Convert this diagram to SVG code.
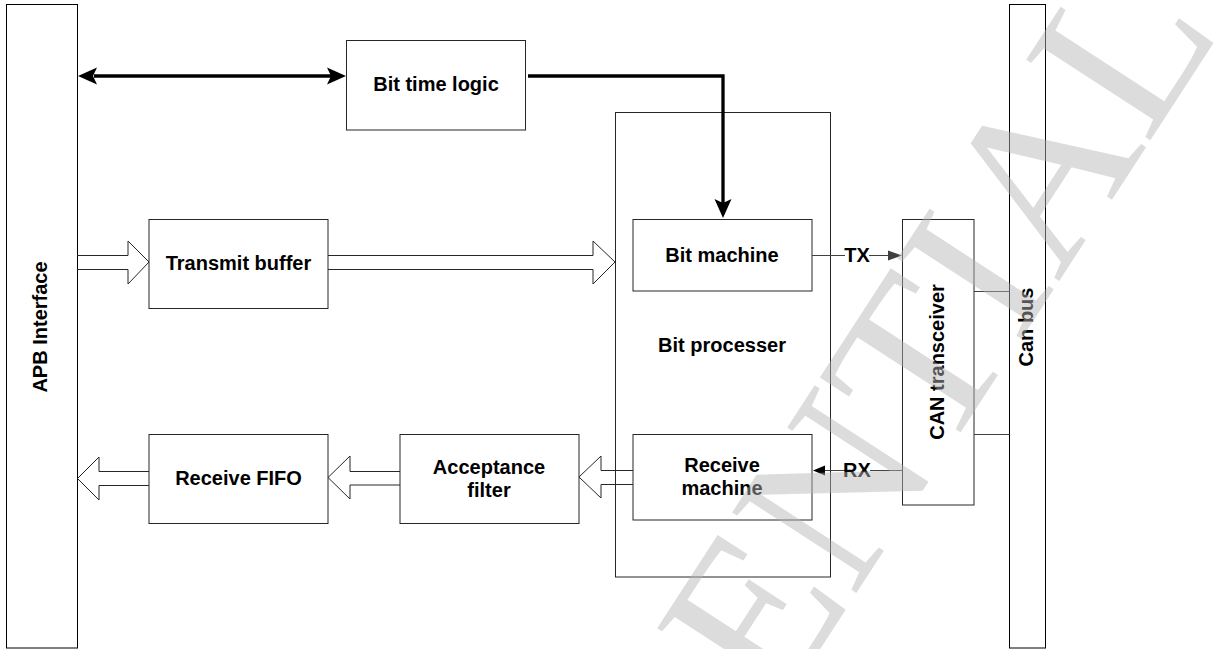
<svg xmlns="http://www.w3.org/2000/svg" width="1220" height="649" viewBox="0 0 1220 649">
<style>
.box{fill:#fff;stroke:#262626;stroke-width:1}
.bar{fill:#fff;stroke:#000;stroke-width:1}
.lbl{font-family:"Liberation Sans",Arial,sans-serif;font-weight:bold;font-size:20px;fill:#000;text-anchor:middle}
.thin{fill:none;stroke:#404040;stroke-width:1}
.thick{fill:none;stroke:#000;stroke-width:3.3}
.hollow{fill:none;stroke:#262626;stroke-width:1;stroke-linejoin:miter}
.wm{font-family:"Liberation Serif","Times New Roman",serif;font-size:226px;fill:#b5b5b5;fill-opacity:0.47;text-anchor:end}
</style>
<rect width="1220" height="649" fill="#fff"/>
<g id="apb">
<rect class="bar" x="6.5" y="4.5" width="71" height="643.5"/>
<text class="lbl" transform="translate(47,327) rotate(-90)">APB Interface</text>
</g>
<g id="canbus">
<rect class="bar" x="1009.5" y="4.5" width="36" height="643.5"/>
<text class="lbl" transform="translate(1033,327) rotate(-90)">Can bus</text>
</g>
<g id="bittime">
<rect class="box" x="346.5" y="40.5" width="179" height="89.5"/>
<text class="lbl" x="436" y="91">Bit time logic</text>
</g>
<g id="bitproc">
<rect class="box" x="615.5" y="112.5" width="215" height="464.5"/>
<text class="lbl" x="722" y="352">Bit processer</text>
</g>
<g id="bitmachine">
<rect class="box" x="633" y="219.5" width="179" height="71.5"/>
<text class="lbl" x="722" y="262">Bit machine</text>
</g>
<g id="recvmachine">
<rect class="box" x="633" y="434.5" width="179" height="85.5"/>
<text class="lbl" x="722" y="471.5">Receive</text>
<text class="lbl" x="722" y="494.5">machine</text>
</g>
<g id="txbuf">
<rect class="box" x="149" y="219.5" width="179" height="89"/>
<text class="lbl" x="238.5" y="270">Transmit buffer</text>
</g>
<g id="rxfifo">
<rect class="box" x="149" y="434.5" width="179" height="89"/>
<text class="lbl" x="238.5" y="485">Receive FIFO</text>
</g>
<g id="accfilter">
<rect class="box" x="400" y="434.5" width="179" height="89"/>
<text class="lbl" x="489" y="473.5">Acceptance</text>
<text class="lbl" x="489" y="496.5">filter</text>
</g>
<g id="transceiver">
<rect class="box" x="902.5" y="219.5" width="71.5" height="285.5"/>
<text class="lbl" transform="translate(944,362) rotate(-90)">CAN transceiver</text>
</g>
<g id="connectors">
<line class="thick" x1="94" y1="76" x2="331" y2="76"/>
<path d="M78,76 L97,67.5 L93,76 L97,84.5 Z" fill="#000"/>
<path d="M346,76 L327,67.5 L331,76 L327,84.5 Z" fill="#000"/>
<polyline class="thick" points="528,76 723,76 723,206"/>
<path d="M723,218 L714.5,199 L723,203 L731.5,199 Z" fill="#000"/>
<path class="hollow" d="M77,255.5 H128 V241 L149,262 L128,284 V269.5 H77"/>
<path class="hollow" d="M328,255.5 H593 V241 L615,262 L593,284 V269.5 H328"/>
<path class="hollow" d="M633,470.5 H601 V456 L579,477 L601,498 V484.5 H633"/>
<path class="hollow" d="M400,471.5 H350 V456 L328,477.5 L350,499 V485 H400"/>
<path class="hollow" d="M149,471.5 H99 V457 L77.5,478.5 L99,500 V485.5 H149"/>
<line class="thin" x1="812" y1="255.5" x2="845" y2="255.5"/>
<line class="thin" x1="869" y1="255.5" x2="889" y2="255.5"/>
<path d="M902,255.5 L888,250.5 L888,260.5 Z" fill="#404040"/>
<text class="lbl" x="857" y="262">TX</text>
<line class="thin" x1="902" y1="470.5" x2="870" y2="470.5"/>
<line class="thin" x1="845" y1="470.5" x2="824" y2="470.5"/>
<path d="M813,470.5 L825,465.5 L825,475.5 Z" fill="#000"/>
<text class="lbl" x="857" y="477">RX</text>
<line class="thin" x1="974" y1="291.5" x2="1009.5" y2="291.5"/>
<line class="thin" x1="974" y1="434.5" x2="1009.5" y2="434.5"/>
</g>
<text class="wm" transform="translate(1222,30) rotate(-57)">CONFIDENTIAL</text>
</svg>
